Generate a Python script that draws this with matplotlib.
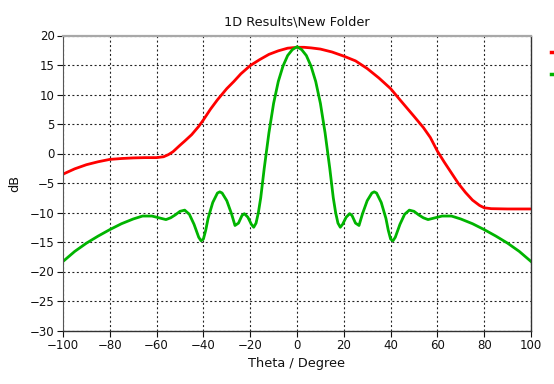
import matplotlib
matplotlib.use("Agg")

import matplotlib.pyplot as plt
from matplotlib.lines import Line2D


# farfield cut
theta_red = [-100, -95, -90, -85, -80, -75, -70, -65, -60, -57, -55, -53, -50,
             -48, -45, -42, -40, -37, -34, -30, -27, -24, -20, -16, -12, -8,
             -4, 0, 3, 6, 10, 15, 20, 25, 30, 35, 40, 44, 47, 50, 54, 57, 60,
             63, 66, 69, 72, 75, 78, 80, 83, 90, 100]
db_red = [-3.5, -2.6, -1.9, -1.4, -1.0, -0.85, -0.75, -0.7, -0.7, -0.55, -0.2,
          0.3, 1.4, 2.1, 3.2, 4.6, 5.7, 7.5, 9.1, 11.0, 12.2, 13.5, 14.9, 15.9,
          16.8, 17.4, 17.85, 18.0, 18.0, 17.9, 17.7, 17.2, 16.5, 15.7, 14.4,
          12.8, 11.0, 9.1, 7.7, 6.3, 4.4, 2.7, 0.4, -1.5, -3.3, -5.1, -6.6,
          -7.9, -8.8, -9.2, -9.35, -9.4, -9.4]

theta_green = [-100, -95, -90, -85, -80, -75, -70, -66, -62, -58, -56, -54,
               -52, -50, -48, -46, -44, -42, -41, -40, -39, -38, -36, -34, -33,
               -32, -30, -28, -26.5, -25, -23.5, -22.5, -21, -19.5, -18.5,
               -17.5, -16.5, -15.5, -14, -12, -10, -8, -6, -4, -2, 0,
               2, 4, 6, 8, 10, 12, 14, 15.5, 16.5, 17.5, 18.5, 19.5, 21, 22.5,
               23.5, 25, 26.5, 28, 30, 32, 33, 34, 36, 38, 39, 40, 41, 42, 44,
               46, 48, 50, 52, 54, 56, 58, 62, 66, 70, 75, 80, 85, 90, 95, 100]
db_green = [-18.3, -16.6, -15.2, -14.0, -12.9, -11.9, -11.1, -10.6, -10.6,
            -11.0, -11.2, -10.9, -10.4, -9.8, -9.6, -10.3, -12.0, -14.2, -14.8,
            -14.5, -13.0, -11.0, -8.3, -6.7, -6.5, -6.7, -8.0, -10.2, -12.2,
            -11.8, -10.5, -10.2, -10.8, -12.0, -12.5, -11.8, -10.0, -7.5, -2.5,
            3.5, 8.5, 12.2, 14.8, 16.6, 17.6, 18.1,
            17.6, 16.6, 14.8, 12.2, 8.5, 3.5, -2.5, -7.5, -10.0, -11.8, -12.5,
            -12.0, -10.8, -10.2, -10.5, -11.8, -12.2, -10.2, -8.0, -6.7, -6.5,
            -6.7, -8.3, -11.0, -13.0, -14.5, -14.8, -14.2, -12.0, -10.3, -9.6,
            -9.8, -10.4, -10.9, -11.2, -11.0, -10.6, -10.6, -11.1, -11.9,
            -12.9, -14.0, -15.2, -16.6, -18.3]

x_ticks = list(range(-100, 101, 20))
y_ticks = list(range(-30, 21, 5))

RED = "#ff0000"
GREEN = "#00b400"

plt.rcParams["font.family"] = ["DejaVu Sans"]

fig = plt.figure(figsize=(5.54, 3.84), dpi=100)
ax = fig.add_axes([63 / 554, 1 - 330.5 / 384, (531 - 63) / 554, (330.5 - 35.5) / 384])

ax.plot(theta_red, db_red, color=RED, lw=2.0)
ax.plot(theta_green, db_green, color=GREEN, lw=2.0)

ax.set_xlim(-100, 100)
ax.set_ylim(-30, 20)
ax.set_xticks(x_ticks)
ax.set_yticks(y_ticks)
ax.tick_params(direction="out", length=4, width=0.8, labelsize=8.5,
               colors="#111111", pad=2)

ax.grid(True, color="#222222", linestyle=(0, (1.8, 2.2)), linewidth=0.8)

for side in ["bottom", "right"]:
    ax.spines[side].set_color("#333333")
    ax.spines[side].set_linewidth(1.0)
ax.spines["left"].set_color("#555555")
ax.spines["top"].set_color("#a8a8a8")
ax.spines["top"].set_linewidth(1.6)

ax.set_title("1D Results\\New Folder", fontsize=9.3, color="#111111", pad=7)
ax.set_xlabel("Theta / Degree", fontsize=9.3, color="#111111", labelpad=4)
ax.set_ylabel("dB", fontsize=9.3, color="#111111", labelpad=6)

# legend sits just off the right edge, as in the reference
handles = [Line2D([0], [0], color=RED, lw=2.5), Line2D([0], [0], color=GREEN, lw=2.5)]
fig.legend(handles, ["", ""], loc="upper left",
           bbox_to_anchor=(546 / 554, 1 - 41 / 384), frameon=False,
           handlelength=2.0, labelspacing=0.75, borderaxespad=0, fontsize=9)

fig.savefig("out.png", dpi=100)
